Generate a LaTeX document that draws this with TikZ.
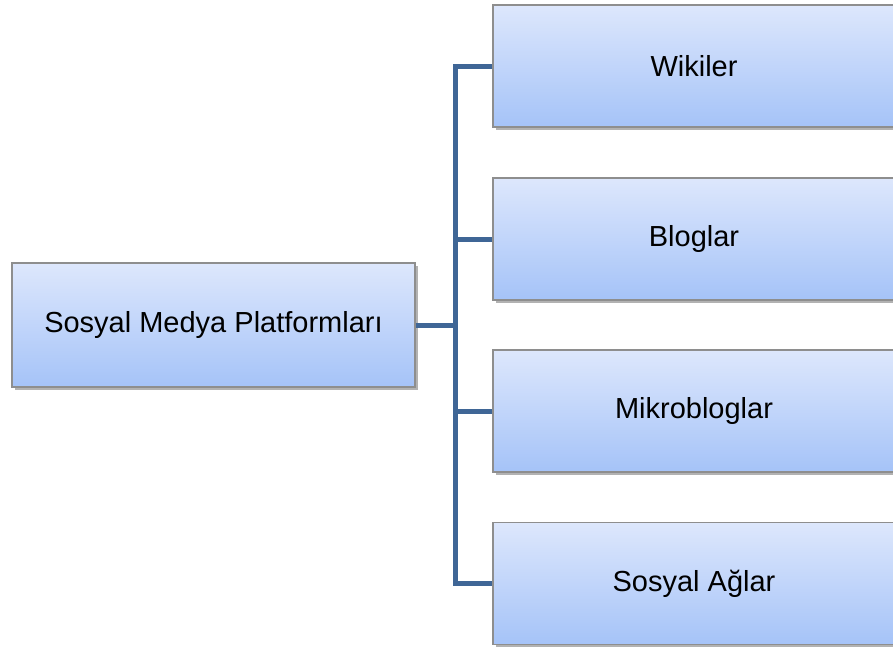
\documentclass[tikz,border=0pt]{standalone}
\usepackage{fontspec}
\setmainfont{Liberation Sans}
\usetikzlibrary{shadows}
\definecolor{boxtop}{HTML}{DDE7FC}
\definecolor{boxbot}{HTML}{A5C3F8}
\definecolor{edgegray}{HTML}{8E8E8E}
\definecolor{linkblue}{HTML}{3F6696}

\begin{document}
\begin{tikzpicture}[x=0.75pt, y=-0.75pt,
  platform/.style={draw=edgegray, line width=0.9pt, top color=boxtop, bottom color=boxbot,
    minimum width=301.5pt, minimum height=91.5pt, inner sep=0pt,
    font=\fontsize{21.75}{26}\selectfont,
    drop shadow={shadow xshift=2pt, shadow yshift=-2pt, fill=black, opacity=0.3}},
  link/.style={draw=linkblue, line width=3.75pt}]
  \useasboundingbox (0,0) rectangle (893,653);

  \node[platform, minimum width=302.25pt, minimum height=93pt] (root) at (213.5,325) {Sosyal Medya Platformları};

  \node[platform] (wiki) at (694,66) {Wikiler};
  \node[platform] (blog) at (694,239) {Bloglar};
  \node[platform] (mikro) at (694,411) {Mikrobloglar};
  \node[platform] (ag) at (694,583.5) {Sosyal Ağlar};

  \coordinate (hub) at (455,325);
  \draw[link] (wiki.west) -| (hub) |- (ag.west);
  \draw[link] (root.east) -- (hub);
  \draw[link] (hub |- blog.west) -- (blog.west);
  \draw[link] (hub |- mikro.west) -- (mikro.west);
\end{tikzpicture}
\end{document}
